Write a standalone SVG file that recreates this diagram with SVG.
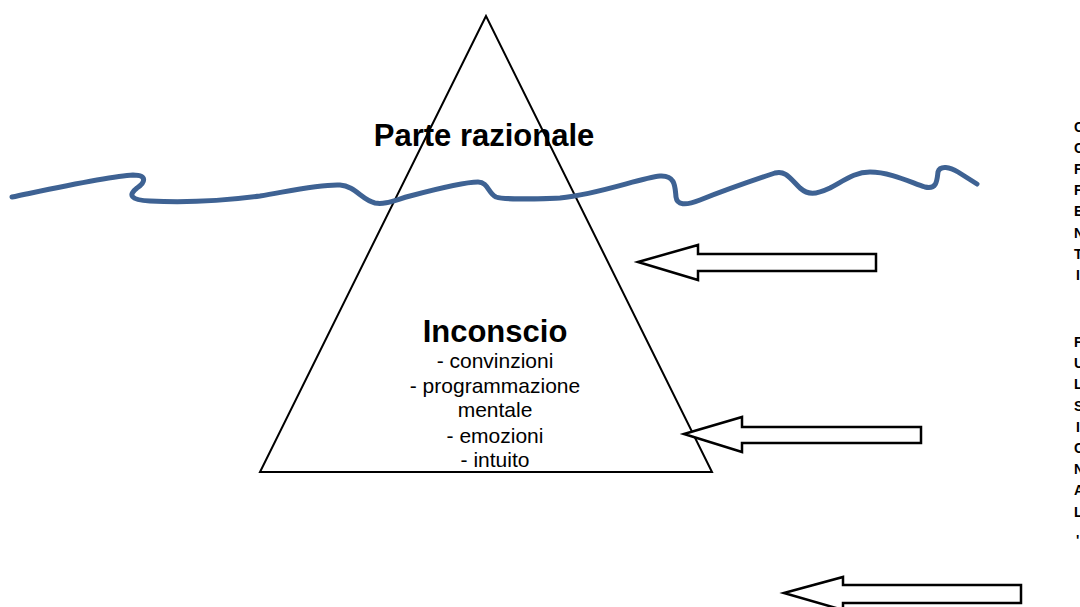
<svg xmlns="http://www.w3.org/2000/svg" width="1080" height="607" viewBox="0 0 1080 607">
<style>
.big{font-family:"Liberation Sans",Arial,sans-serif;font-weight:bold;font-size:31px;fill:#000;text-anchor:middle}
.item{font-family:"Liberation Sans",Arial,sans-serif;font-size:21px;fill:#000;text-anchor:middle}
.side{font-family:"Liberation Sans",Arial,sans-serif;font-weight:bold;font-size:14px;fill:#000}
.arrow{fill:#fff;stroke:#000;stroke-width:2.5;stroke-linejoin:miter}
</style>
<rect width="1080" height="607" fill="#fff"/>
<g id="pyramid">
<polygon points="486,16 260,472 712,472" fill="#fff" stroke="#000" stroke-width="2"/>
</g>
<g id="water">
<path d="M 12 197 C 60 187, 110 176, 133 175 C 148 175, 145 183, 137 188 C 128 195, 130 200, 150 201 C 190 203, 230 200, 260 196 C 290 191, 320 184, 340 185 C 355 186, 362 200, 375 203 C 385 205, 395 200, 410 196 C 440 188, 465 182, 478 182 C 488 182, 488 193, 496 197 C 505 200, 530 199, 560 198 C 600 194, 640 178, 660 176 C 676 175, 675 188, 676 197 C 677 205, 685 206, 700 200 C 730 188, 760 178, 775 173 C 785 170, 790 178, 800 188 C 808 195, 815 195, 830 188 C 845 180, 855 172, 870 172 C 890 172, 910 182, 925 187 C 937 190, 937 180, 938 172 C 940 165, 950 167, 958 172 L 977 184" fill="none" stroke="#3E6293" stroke-width="5" stroke-linecap="round"/>
</g>
<g id="label-rational">
<text class="big" x="484" y="146">Parte razionale</text>
</g>
<g id="label-unconscious">
<text class="big" x="495" y="342">Inconscio</text>
<text class="item" x="495" y="368">- convinzioni</text>
<text class="item" x="495" y="393">- programmazione</text>
<text class="item" x="495" y="417">mentale</text>
<text class="item" x="495" y="443">- emozioni</text>
<text class="item" x="495" y="467">- intuito</text>
</g>
<g id="connectors">
<polygon class="arrow" points="638,262 698,245 698,254 876,254 876,271 698,271 698,280"/>
<polygon class="arrow" points="684,434 742,417 742,427 921,427 921,443 742,443 742,452"/>
<polygon class="arrow" points="784,593 843,577 843,585 1021,585 1021,603 843,603 843,610"/>
</g>
<g id="side-text-1">
<text class="side" x="1074" y="132">C</text>
<text class="side" x="1074" y="153">C</text>
<text class="side" x="1074" y="174">F</text>
<text class="side" x="1074" y="195">F</text>
<text class="side" x="1074" y="216">E</text>
<text class="side" x="1074" y="238">N</text>
<text class="side" x="1074" y="259">T</text>
<text class="side" x="1076" y="280">I</text>
</g>
<g id="side-text-2">
<text class="side" x="1074" y="347">F</text>
<text class="side" x="1074" y="368">U</text>
<text class="side" x="1074" y="389">L</text>
<text class="side" x="1074" y="411">S</text>
<text class="side" x="1076" y="432">I</text>
<text class="side" x="1074" y="453">C</text>
<text class="side" x="1074" y="474">N</text>
<text class="side" x="1074" y="495">A</text>
<text class="side" x="1074" y="517">L</text>
<text class="side" x="1076" y="545">'</text>
</g>
</svg>
